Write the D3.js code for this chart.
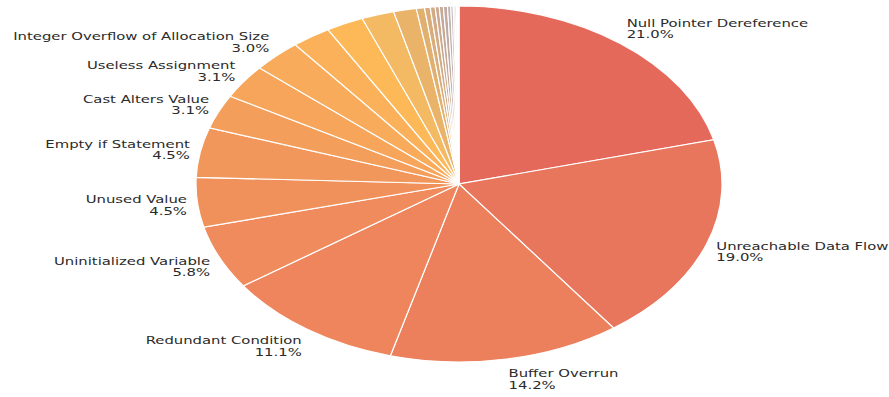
<!DOCTYPE html>
<html>
<head>
<meta charset="utf-8">
<script src="https://cdn.jsdelivr.net/npm/d3@7/dist/d3.min.js"></script>
<style>
  html, body { margin: 0; padding: 0; background: #fff; }
  svg { display: block; }
  .lbl { font-family: "DejaVu Sans", sans-serif; font-size: 10.6px; fill: #2b2b2b; }
</style>
</head>
<body>
<svg id="chart" width="889" height="397"></svg>
<script>
// Checker categories with a visible label, in drawing order (clockwise from 12 o'clock)
const categories = [
  "Null Pointer Dereference",
  "Unreachable Data Flow",
  "Buffer Overrun",
  "Redundant Condition",
  "Uninitialized Variable",
  "Unused Value",
  "Empty if Statement",
  "Cast Alters Value",
  "Useless Assignment",
  "Integer Overflow of Allocation Size"
];
// Share of findings (%) for the labelled categories
const values = [21.0, 19.0, 14.2, 11.1, 5.8, 4.5, 4.5, 3.1, 3.1, 3.0];
// Remaining small categories, too thin to carry a label
const minorValues = [2.4, 2.3, 2.0, 1.4, 0.5, 0.35, 0.3, 0.25, 0.25, 0.25, 0.2, 0.15, 0.1, 0.1, 0.05, 0.05, 0.05];

// Warm gradient palette: red → orange → yellow → tan → grey
const colors = [
  "#e5695b", "#e8765c", "#ec7f5c", "#ee855c", "#ef8b5c", "#f0905b", "#f2975b",
  "#f49e5b", "#f6a55a", "#f8ab5a", "#fbb159", "#fdb857", "#f3b963", "#e9b369",
  "#e0b06f", "#d9ad7a", "#d2ab85", "#cba98f", "#c5a898", "#c1aaa2", "#bfb0ab",
  "#c3bab7", "#cbc6c5", "#d6d3d3", "#e2e0e0", "#ececec", "#f4f4f4"
];

const slices = values.map((v, i) => ({ name: categories[i], value: v, labelled: true }))
  .concat(minorValues.map(v => ({ name: "", value: v, labelled: false })));

const cx = 459, cy = 184, rx = 263, ry = 178;
const sx = rx / ry;

const svg = d3.select("#chart");

const pie = d3.pie().sort(null).value(d => d.value).startAngle(0).endAngle(2 * Math.PI);
const arcs = pie(slices);
const arc = d3.arc().innerRadius(0).outerRadius(ry);

const pieG = svg.append("g").attr("transform", `translate(${cx},${cy}) scale(${sx},1)`);
pieG.selectAll("path")
  .data(arcs)
  .join("path")
  .attr("d", arc)
  .attr("fill", (d, i) => colors[i])
  .attr("stroke", "#fff")
  .attr("stroke-width", 1.2)
  .attr("vector-effect", "non-scaling-stroke");

// Labels: name + percentage, placed just outside the rim at each slice's mid-angle
const k = 1.04, halfH = 12.5, textScale = 1.40;
const fmt = d3.format(".1f");
const labG = svg.append("g");
arcs.filter(d => d.data.labelled).forEach(d => {
  const a = (d.startAngle + d.endAngle) / 2;
  const s = Math.sin(a), c = Math.cos(a);
  const ax = cx + rx * k * s;
  const ay = cy - ry * k * c;
  const center = ay - halfH * c;
  const anchor = s >= 0 ? "start" : "end";
  const g = labG.append("g").attr("transform", `translate(${ax},${center}) scale(${textScale},1)`);
  g.append("text").attr("class", "lbl").attr("text-anchor", anchor)
    .attr("y", -1.2).text(d.data.name);
  g.append("text").attr("class", "lbl").attr("text-anchor", anchor)
    .attr("y", 10.5).text(fmt(d.data.value) + "%");
});
</script>
</body>
</html>
